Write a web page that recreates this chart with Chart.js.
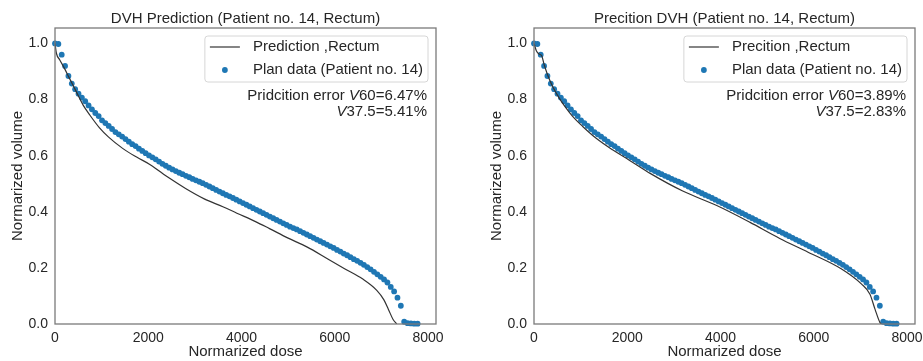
<!DOCTYPE html>
<html>
<head>
<meta charset="utf-8">
<script src="https://cdn.jsdelivr.net/npm/chart.js@4.4.0/dist/chart.umd.min.js"></script>
<style>
  html, body { margin: 0; padding: 0; background: #fff; }
  body { width: 923px; height: 361px; position: relative; overflow: hidden; }
  canvas { position: absolute; top: 0; }
  #dvhLeft { left: 0; }
  #dvhRight { left: 479px; }
</style>
</head>
<body>
<canvas id="dvhLeft" width="444" height="361"></canvas>
<canvas id="dvhRight" width="444" height="361"></canvas>
<script>
// plan data (same patient in both panels)
const planDose = [
  0, 72, 144, 216, 288, 360, 432, 504, 576, 648,
  720, 792, 864, 936, 1008, 1080, 1152, 1224, 1296, 1368,
  1440, 1512, 1584, 1656, 1728, 1800, 1872, 1944, 2016, 2088,
  2160, 2232, 2304, 2376, 2448, 2520, 2592, 2664, 2736, 2808,
  2880, 2952, 3024, 3096, 3168, 3240, 3312, 3384, 3456, 3528,
  3600, 3672, 3744, 3816, 3888, 3960, 4032, 4104, 4176, 4248,
  4320, 4392, 4464, 4536, 4608, 4680, 4752, 4824, 4896, 4968,
  5040, 5112, 5184, 5256, 5328, 5400, 5472, 5544, 5616, 5688,
  5760, 5832, 5904, 5976, 6048, 6120, 6192, 6264, 6336, 6408,
  6480, 6552, 6624, 6696, 6768, 6840, 6912, 6984, 7056, 7128,
  7200, 7272, 7344, 7416, 7488, 7560, 7632, 7704, 7776
];
const planVolume = [
  1.0, 0.998, 0.96, 0.92, 0.884, 0.857, 0.837, 0.821, 0.807, 0.794,
  0.779, 0.765, 0.752, 0.741, 0.726, 0.716, 0.706, 0.695, 0.684, 0.676,
  0.668, 0.659, 0.650, 0.641, 0.634, 0.625, 0.617, 0.609, 0.601, 0.594,
  0.587, 0.579, 0.571, 0.564, 0.557, 0.551, 0.545, 0.539, 0.534, 0.528,
  0.523, 0.517, 0.512, 0.507, 0.502, 0.496, 0.490, 0.484, 0.478, 0.472,
  0.466, 0.460, 0.455, 0.449, 0.443, 0.437, 0.431, 0.425, 0.419, 0.413,
  0.407, 0.401, 0.395, 0.389, 0.383, 0.377, 0.371, 0.365, 0.359, 0.353,
  0.347, 0.342, 0.337, 0.331, 0.325, 0.319, 0.313, 0.307, 0.301, 0.295,
  0.289, 0.283, 0.277, 0.271, 0.264, 0.258, 0.251, 0.245, 0.238, 0.231,
  0.225, 0.218, 0.211, 0.203, 0.195, 0.186, 0.177, 0.168, 0.159, 0.148,
  0.132, 0.116, 0.094, 0.065, 0.008, 0.003, 0.002, 0.001, 0.001
];

// left panel prediction
const predDoseA = [0, 30, 100, 200, 300, 450, 600, 750, 950, 1150, 1450, 1750, 2050, 2450, 2800,
  3200, 3600, 3900, 4300, 4600, 5000, 5400, 5850, 6200, 6600, 6900, 7050, 7150, 7250, 7330];
const predVolumeA = [1.0, 0.965, 0.942, 0.912, 0.879, 0.830, 0.781, 0.744, 0.700, 0.666, 0.626, 0.595, 0.567, 0.520, 0.483,
  0.446, 0.418, 0.395, 0.365, 0.340, 0.306, 0.275, 0.232, 0.198, 0.160, 0.120, 0.087, 0.052, 0.016, 0.0];

// right panel prediction
const predDoseB = [0, 50, 107, 165, 215, 287, 394, 538, 681, 824, 1039, 1326, 1684, 2043, 2500,
  3189, 3907, 4624, 5269, 5878, 6595, 7025, 7204, 7312, 7419, 7450];
const predVolumeB = [1.0, 0.974, 0.962, 0.956, 0.926, 0.890, 0.848, 0.806, 0.771, 0.741, 0.705, 0.663, 0.621, 0.584, 0.536,
  0.474, 0.423, 0.363, 0.305, 0.256, 0.196, 0.142, 0.106, 0.053, 0.005, 0.0];

const xTicks = [0, 2000, 4000, 6000, 8000];
const yTicks = [0, 0.2, 0.4, 0.6, 0.8, 1.0];

const panelTitles = ["DVH Prediction (Patient no. 14, Rectum)", "Precition DVH (Patient no. 14, Rectum)"];
const predLabels = ["Prediction ,Rectum", "Precition ,Rectum"];
const planLabel = "Plan data (Patient no. 14)";
const errorV60 = ["6.47%", "3.89%"];
const errorV375 = ["5.41%", "2.83%"];

const textColor = "#262626";
const fontFamily = "'Liberation Sans', Arial, sans-serif";
Chart.defaults.font.family = fontFamily;
Chart.defaults.color = textColor;

// frame, in-axes legend and the error note
const dvhDecor = {
  id: "dvhDecor",
  afterDatasetsDraw(chart, args, opts) {
    const { ctx, chartArea: a } = chart;
    ctx.save();
    ctx.strokeStyle = "#7a7a7a";
    ctx.lineWidth = 1.3;
    ctx.strokeRect(a.left, a.top, a.right - a.left, a.bottom - a.top);

    // legend box
    ctx.font = "15px " + fontFamily;
    const ds = chart.data.datasets;
    const textW = Math.max(...ds.map(d => ctx.measureText(d.label).width));
    const boxW = textW + 53, boxH = 46;
    const bx = a.right - 8 - boxW, by = a.top + 8;
    ctx.beginPath();
    if (ctx.roundRect) ctx.roundRect(bx, by, boxW, boxH, 3); else ctx.rect(bx, by, boxW, boxH);
    ctx.fillStyle = "rgba(255,255,255,0.85)";
    ctx.fill();
    ctx.strokeStyle = "#d6d6d6";
    ctx.lineWidth = 1;
    ctx.stroke();

    ctx.strokeStyle = ds[0].borderColor;
    ctx.lineWidth = ds[0].borderWidth;
    ctx.beginPath();
    ctx.moveTo(bx + 5, by + 11);
    ctx.lineTo(bx + 35, by + 11);
    ctx.stroke();
    ctx.fillStyle = ds[1].backgroundColor;
    ctx.beginPath();
    ctx.arc(bx + 20, by + 34, ds[1].pointRadius, 0, Math.PI * 2);
    ctx.fill();

    ctx.fillStyle = textColor;
    ctx.textBaseline = "middle";
    ctx.textAlign = "left";
    ctx.fillText(ds[0].label, bx + 48, by + 11);
    ctx.fillText(ds[1].label, bx + 48, by + 34);

    // error note, right aligned, V in italics
    const rx = a.right - 9;
    drawParts(ctx, [["Pridcition error ", false], ["V", true], ["60=" + opts.v60, false]], rx, a.top + 68);
    drawParts(ctx, [["V", true], ["37.5=" + opts.v375, false]], rx, a.top + 84);
    ctx.restore();
  }
};

function drawParts(ctx, parts, rightX, y) {
  const fonts = parts.map(p => (p[1] ? "italic " : "") + "15px " + fontFamily);
  const widths = parts.map((p, i) => { ctx.font = fonts[i]; return ctx.measureText(p[0]).width; });
  let x = rightX - widths.reduce((s, w) => s + w, 0);
  parts.forEach((p, i) => {
    ctx.font = fonts[i];
    ctx.fillText(p[0], x, y);
    x += widths[i];
  });
}

function buildPanel(canvasId, i, predDose, predVolume) {
  const predPoints = predDose.map((d, k) => ({ x: d, y: predVolume[k] }));
  const planPoints = planDose.map((d, k) => ({ x: d, y: planVolume[k] }));

  return new Chart(document.getElementById(canvasId), {
    type: "scatter",
    data: {
      datasets: [
        {
          type: "line",
          label: predLabels[i],
          data: predPoints,
          borderColor: "#333333",
          borderWidth: 1.2,
          pointRadius: 0,
          fill: false,
          cubicInterpolationMode: "monotone",
          order: 0
        },
        {
          label: planLabel,
          data: planPoints,
          backgroundColor: "#1f77b4",
          borderWidth: 0,
          pointRadius: 2.9,
          clip: false,
          order: 1
        }
      ]
    },
    options: {
      responsive: false,
      animation: false,
      layout: { padding: { left: 0, right: 8, top: 0, bottom: 0 } },
      scales: {
        x: {
          type: "linear",
          min: 0,
          max: 8170,
          afterBuildTicks: s => { s.ticks = xTicks.map(v => ({ value: v })); },
          // fixed height, and no extra room asked for the "8000" label
          afterFit: s => { s.height = 37; s.paddingLeft = 0; s.paddingRight = 0; },
          grid: { display: false, drawTicks: false },
          border: { display: false },
          ticks: { padding: 6, color: textColor, font: { size: 14 }, callback: v => String(v) },
          title: { display: true, text: "Normarized dose", color: textColor, font: { size: 15 }, padding: 0 }
        },
        y: {
          min: 0,
          max: 1.055,
          afterBuildTicks: s => { s.ticks = yTicks.map(v => ({ value: v })); },
          afterFit: s => { s.width = 55; s.paddingTop = 0; s.paddingBottom = 0; },
          grid: { display: false, drawTicks: false },
          border: { display: false },
          ticks: { padding: 7, color: textColor, font: { size: 14 }, callback: v => v.toFixed(1) },
          title: { display: true, text: "Normarized volume", color: textColor, font: { size: 15 }, padding: { top: 9, bottom: 0 } }
        }
      },
      plugins: {
        legend: { display: false },
        tooltip: { enabled: false },
        title: {
          display: true,
          fullSize: false,
          text: panelTitles[i],
          color: textColor,
          font: { size: 15, weight: "normal" },
          padding: { top: 10, bottom: 0 }
        },
        dvhDecor: { v60: errorV60[i], v375: errorV375[i] }
      }
    },
    plugins: [dvhDecor]
  });
}

buildPanel("dvhLeft", 0, predDoseA, predVolumeA);
buildPanel("dvhRight", 1, predDoseB, predVolumeB);
</script>
</body>
</html>
